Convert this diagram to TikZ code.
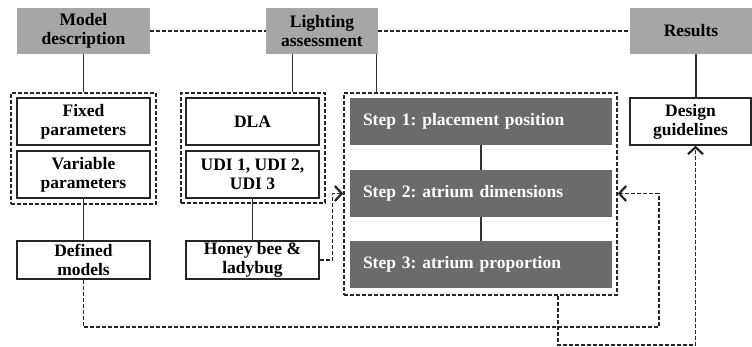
\documentclass[tikz,border=0pt]{standalone}
\usepackage{fontspec}
\setmainfont{Liberation Serif}
\usepackage{xcolor}
\usetikzlibrary{arrows.meta}
\frenchspacing

\definecolor{headgray}{HTML}{A6A6A6}
\definecolor{stepgray}{HTML}{6B6B6B}

\tikzset{
  headbox/.style={fill=headgray, minimum height=46pt, inner sep=0pt, align=center},
  itembox/.style={draw=black!85, line width=1.3pt, fill=white, minimum width=133pt, inner sep=0pt, align=center},
  stepbox/.style={fill=stepgray, text=white, minimum height=47pt, inner xsep=13pt, inner ysep=0pt, text width=236pt, align=left},
  groupbox/.style={draw=black!85, line width=1.3pt, dash pattern=on 4pt off 2pt, inner sep=0pt},
  link/.style={draw=black!80, line width=1.3pt},
  dlink/.style={draw=black!85, line width=1.5pt, dash pattern=on 4pt off 2pt},
  barb/.style={-{Straight Barb[length=7pt, width=15pt, line width=2.2pt]}}
}

\begin{document}
\begin{tikzpicture}[x=1pt, y=-1pt, font=\fontsize{17.5}{19}\selectfont\bfseries]
\useasboundingbox (0,0) rectangle (752,347);

% headings
\node [headbox, minimum width=133pt] (md) at (83.5,31) {Model\\description};
\node [headbox, minimum width=112pt] (la) at (322,31) {Lighting\\assessment};
\node [headbox, minimum width=122pt] (res) at (691,31) {Results};

% dashed groups
\node [groupbox, minimum width=145pt, minimum height=111pt] (g1) at (83.5,148.5) {};
\node [groupbox, minimum width=144pt, minimum height=110pt] (g2) at (253,148) {};
\node [groupbox, minimum width=273pt, minimum height=202pt] (g3) at (480.5,194) {};

% model boxes
\node [itembox, minimum height=47pt] (fp) at (83.5,121.5) {Fixed\\parameters};
\node [itembox, minimum height=47pt] (vp) at (83.5,174.5) {Variable\\parameters};
\node [itembox, minimum height=38pt] (dm) at (83.5,260) {Defined\\models};

% assessment boxes
\node [itembox, minimum height=47pt] (dla) at (252.5,121.5) {DLA};
\node [itembox, minimum height=47pt] (udi) at (252.5,174.5) {UDI 1, UDI 2,\\UDI 3};
\node [itembox, minimum height=38pt] (hb) at (252.5,260) {Honey bee \&\\ladybug};

% steps
\node [stepbox] (s1) at (481,121.5) {Step 1: placement position};
\node [stepbox] (s2) at (481,193.5) {Step 2: atrium dimensions};
\node [stepbox] (s3) at (481,264.5) {Step 3: atrium proportion};

% results
\node [itembox, minimum width=121pt, minimum height=47pt] (dg) at (690.5,121.5) {Design\\guidelines};

\coordinate (loopa) at (659,327);
\coordinate (loopb) at (558,345);

% solid links
\draw [link] (md.south) -- (g1.north);
\draw [link] ([xshift=27pt]la.south west) -- ([xshift=27pt]la.south west |- g2.north);
\draw [link] ([xshift=-2pt]la.south east) -- ([xshift=-2pt]la.south east |- g3.north);
\draw [link] ([xshift=5pt]res.south) -- ([xshift=5pt]res.south |- dg.north);
\draw [link] (vp.south) -- (dm.north);
\draw [link] (udi.south) -- (hb.north);
\draw [link] (s1.south) -- (s2.north);
\draw [link] (s2.south) -- (s3.north);

% dashed links
\draw [dlink] (md.east) -- (la.west);
\draw [dlink] (la.east) -- (res.west);
\draw [dlink, barb] (hb.east) -- ++(13,0) |- (g3.west |- s2);
\draw [dlink, barb] (dm.south) |- (loopa) |- (g3.east |- s2);
\draw [dlink, barb] (g3.south -| loopb) -- (loopb) -| ([xshift=5pt]dg.south);
\end{tikzpicture}
\end{document}
